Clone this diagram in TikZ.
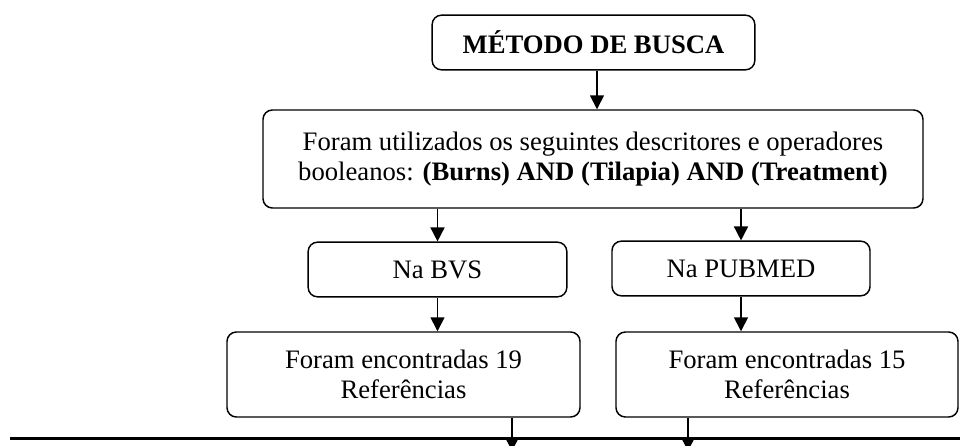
\documentclass[tikz,border=0pt]{standalone}
\usepackage{fontspec}
\setmainfont{Liberation Serif}
\usetikzlibrary{arrows.meta,positioning}
\tikzset{
  >={Triangle[length=10.5pt,width=10.5pt]},
  procbox/.style={draw,rounded corners=7pt,line width=1.1pt,align=center,
    inner sep=0pt,font=\fontsize{20}{22.5}\selectfont},
  flow/.style={->,line width=1.2pt},
  baseline rule/.style={line width=1.6pt},
}
\begin{document}
\begin{tikzpicture}[x=0.75pt,y=-0.75pt]
  \clip (0,0) rectangle (960,446);
  \node[procbox,minimum width=242pt,minimum height=41pt] (metodo) at (593.5,42.5)
    {\textbf{MÉTODO DE BUSCA}};
  \node[procbox,minimum width=495pt,minimum height=73.5pt] (descr) at (593,159)
    {Foram utilizados os seguintes descritores e operadores\\
     booleanos: \textbf{(Burns) AND (Tilapia) AND (Treatment)}};
  \node[procbox,minimum width=194pt,minimum height=41pt] (bvs) at (437.5,269.5) {Na BVS};
  \node[procbox,minimum width=193.5pt,minimum height=41pt] (pubmed) at (741,268.5) {Na PUBMED};
  \node[procbox,minimum width=264.75pt,minimum height=63.75pt] (res19) at (403.5,374.5)
    {Foram encontradas 19\\ Referências};
  \node[procbox,minimum width=256.5pt,minimum height=63.75pt] (res15) at (787,374.5)
    {Foram encontradas 15\\ Referências};
  \coordinate (a0) at (597,0);
  \coordinate (e19) at (512,451);
  \coordinate (e15) at (688,451);
  \coordinate (l0) at (10,438.5);
  \coordinate (l1) at (962,438.5);
  \draw[flow] (metodo.south -| a0) -- (descr.north -| a0);
  \draw[flow] (descr.south -| bvs) -- (bvs.north);
  \draw[flow] (descr.south -| pubmed) -- (pubmed.north);
  \draw[flow] (bvs.south) -- (res19.north -| bvs);
  \draw[flow] (pubmed.south) -- (res15.north -| pubmed);
  \draw[baseline rule] (l0) -- (l1);
  \draw[flow] (res19.south -| e19) -- (e19);
  \draw[flow] (res15.south -| e15) -- (e15);
\end{tikzpicture}
\end{document}
